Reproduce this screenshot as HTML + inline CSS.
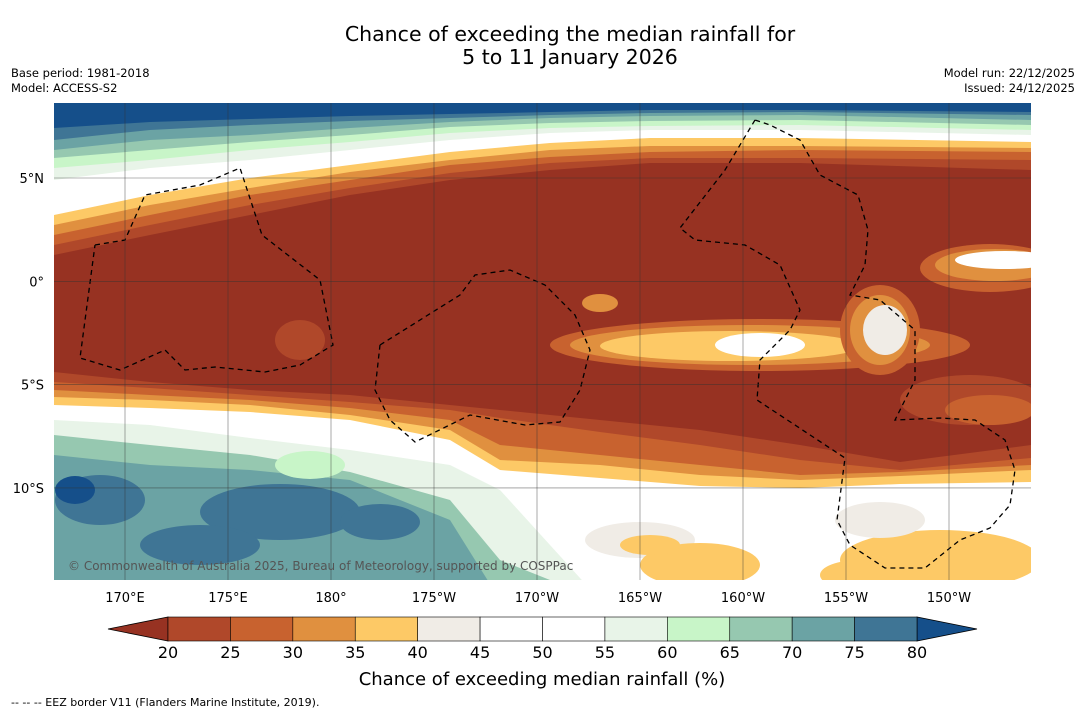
<!DOCTYPE html>
<html><head><meta charset="utf-8"><style>
body{margin:0;background:#fff;width:1085px;height:713px;overflow:hidden;font-family:"DejaVu Sans",sans-serif}
</style></head><body>
<svg id="s" width="1085" height="713" xmlns="http://www.w3.org/2000/svg" font-family="DejaVu Sans, sans-serif">
<text x="570" y="41" font-size="20.5" text-anchor="middle">Chance of exceeding the median rainfall for</text>
<text x="570" y="64" font-size="20.5" text-anchor="middle">5 to 11 January 2026</text>
<text x="11" y="77" font-size="11.5">Base period: 1981-2018</text>
<text x="11" y="92" font-size="11.5">Model: ACCESS-S2</text>
<text x="1075" y="77" font-size="11.5" text-anchor="end">Model run: 22/12/2025</text>
<text x="1075" y="92" font-size="11.5" text-anchor="end">Issued: 24/12/2025</text>
<defs><clipPath id="mc"><rect x="54" y="103" width="977" height="477"/></clipPath></defs>
<g id="map" clip-path="url(#mc)"></g>
<g id="ax"></g>
<text x="68" y="570" font-size="12" fill="#555">© Commonwealth of Australia 2025, Bureau of Meteorology, supported by COSPPac</text>
<g id="cb"></g>
<text x="542" y="685" font-size="18" text-anchor="middle">Chance of exceeding median rainfall (%)</text>
<text x="11" y="706" font-size="11">--  --  -- EEZ border V11 (Flanders Marine Institute, 2019).</text>
</svg>
<script>
const levels=[20,25,30,35,40,45,50,55,60,65,70,75,80];
const colors=["#B0482A","#C8622F","#E0903F","#FDC966","#F0ECE6","#FFFFFF","#FFFFFF","#E8F4E8","#C8F5C8","#96C8B0","#6BA3A4","#3F7595"];
const underColor="#973222", overColor="#154F8A";
const lonTicks=["170°E","175°E","180°","175°W","170°W","165°W","160°W","155°W","150°W"];
const latTicks=["5°N","0°","5°S","10°S"];
const NS="http://www.w3.org/2000/svg";
function mk(t,a,p){const e=document.createElementNS(NS,t);for(const k in a)e.setAttribute(k,a[k]);p.appendChild(e);return e;}
const mapG=document.getElementById('map');
const r0=mk('rect',{x:54,y:103,width:977,height:477,fill:underColor},mapG);


function band(pts,side,col,name){
  let d='M54,'+(side==='top'?103:580)+' ';
  pts.forEach(p=>d+='L'+p[0]+','+p[1]+' ');
  d+='L1031,'+(side==='top'?103:580)+'Z';
  const e=mk('path',{d:d,fill:col},mapG);
  
  
}
const XN=[54,150,250,350,450,550,650,800,1031];
const northBands=[
 ["#B0482A",[255,235,215,195,180,170,163,163,170]],
 ["#C8622F",[245,225,205,188,173,163,158,158,160]],
 ["#E0903F",[235,215,195,180,165,157,152,150,152]],
 ["#FDC966",[225,205,188,172,160,150,146,146,148]],
 ["#FFFFFF",[215,195,178,165,152,143,138,138,142]],
 ["#E8F4E8",[180,168,160,150,140,133,130,130,135]],
 ["#C8F5C8",[168,160,150,142,133,128,126,125,130]],
 ["#96C8B0",[158,150,142,135,127,123,121,120,125]],
 ["#6BA3A4",[150,140,135,128,122,118,116,115,120]],
 ["#3F7595",[140,130,125,121,118,115,113,112,115]],
 ["#154F8A",[128,122,119,116,114,112,110,110,112]]];
northBands.forEach((t,i)=>band(XN.map((x,j)=>[x,t[1][j]]),'top',t[0],'north-band-'+i));
function ell(cx,cy,rx,ry,col,name){const e=mk('ellipse',{cx:cx,cy:cy,rx:rx,ry:ry,fill:col},mapG);}
ell(990,268,70,24,"#C8622F","east-tongue-1");ell(995,265,60,16,"#E0903F","east-tongue-2");ell(1005,260,50,9,"#FFFFFF","east-tongue-3");
ell(760,345,210,26,"#C8622F","central-tongue-1");ell(750,345,180,20,"#E0903F","central-tongue-2");ell(730,346,130,15,"#FDC966","central-tongue-3");ell(760,345,45,12,"#FFFFFF","central-tongue-4");
ell(880,330,40,45,"#C8622F","east-blob-1");ell(880,330,30,35,"#E0903F","east-blob-2");ell(885,330,22,25,"#F0ECE6","east-blob-3");
ell(300,340,25,20,"#B0482A","west-blob");ell(600,303,18,9,"#E0903F","mid-blob");
ell(970,400,70,25,"#B0482A","se-blob-1");ell(990,410,45,15,"#C8622F","se-blob-2");
const XS=[54,150,250,350,450,500,600,700,800,900,1031];
const southBands=[
 ["#B0482A",[372,382,390,395,405,410,420,430,445,462,445]],
 ["#C8622F",[382,388,395,402,410,418,432,445,460,470,458]],
 ["#E0903F",[390,395,400,408,420,445,455,465,475,472,465]],
 ["#FDC966",[397,400,405,415,430,460,465,475,480,476,470]],
 ["#FFFFFF",[405,408,412,420,440,470,478,486,488,484,482]],
 ["#E8F4E8",[420,425,438,450,465,490,600,600,600,600,600]],
 ["#96C8B0",[435,445,455,472,500,560,600,600,600,600,600]],
 ["#6BA3A4",[455,465,470,480,520,600,600,600,600,600,600]]];
southBands.forEach((t,i)=>band(XS.map((x,j)=>[x,t[1][j]]),'bottom',t[0],'south-band-'+i));
ell(310,465,35,14,"#C8F5C8","green-patch");
ell(100,500,45,25,"#3F7595","blue-patch-1");ell(75,490,20,14,"#154F8A","blue-patch-2");
ell(280,512,80,28,"#3F7595","blue-patch-3");ell(380,522,40,18,"#3F7595","blue-patch-4");ell(200,545,60,20,"#3F7595","blue-patch-5");
ell(640,540,55,18,"#F0ECE6","se-grey-1");ell(700,565,60,22,"#FDC966","se-yellow-1");ell(650,545,30,10,"#FDC966","se-yellow-2");
ell(940,560,100,30,"#FDC966","se-yellow-3");ell(880,520,45,18,"#F0ECE6","se-grey-2");ell(860,575,40,15,"#FDC966","se-yellow-4");
const ax=document.getElementById('ax');
lonTicks.forEach((l,i)=>{const x=125+i*103;
 const g=mk('line',{x1:x,y1:103,x2:x,y2:580,stroke:"#333","stroke-width":0.6,opacity:0.7},ax);
 
 const t=mk('text',{x:x,y:602,"font-size":13,"text-anchor":"middle"},ax);t.textContent=l;
 });
latTicks.forEach((l,i)=>{const y=178+i*103.3;
 const g=mk('line',{x1:54,y1:y,x2:1031,y2:y,stroke:"#333","stroke-width":0.6,opacity:0.7},ax);
 
 const t=mk('text',{x:44,y:y+5,"font-size":13,"text-anchor":"end"},ax);t.textContent=l;
 });
const eez=[
 [[95,245],[125,240],[145,195],[200,185],[240,168],[262,235],[320,280],[333,345],[300,365],[265,372],[215,367],[185,370],[165,350],[120,370],[80,358],[95,245]],
 [[380,345],[460,295],[475,275],[510,270],[545,285],[575,315],[590,350],[580,390],[560,422],[525,425],[470,415],[415,442],[390,420],[375,390],[380,345]],
 [[755,120],[725,170],[680,228],[695,240],[745,245],[780,265],[800,310],[790,330],[760,360],[757,400],[845,458],[837,520],[850,545],[885,568],[925,568],[960,540],[990,528],[1010,505],[1015,470],[1005,440],[975,420],[940,418],[895,420],[915,380],[915,330],[880,300],[850,295],[865,265],[868,230],[858,195],[820,175],[800,140],[770,125],[755,120]]];
eez.forEach(p=>{const e=mk('polyline',{points:p.map(q=>q.join(',')).join(' '),fill:"none",stroke:"#000","stroke-width":1.3,"stroke-dasharray":"5,4"},mapG);
 });
const cb=document.getElementById('cb');
const cx0=168,cx1=917,cy=617,ch=24,w=(cx1-cx0)/(levels.length-1);
const lt=mk('polygon',{points:`108,${cy+ch/2} ${cx0},${cy} ${cx0},${cy+ch}`,fill:underColor,stroke:"#000","stroke-width":0.8},cb);

const rt=mk('polygon',{points:`977,${cy+ch/2} ${cx1},${cy} ${cx1},${cy+ch}`,fill:overColor,stroke:"#000","stroke-width":0.8},cb);

colors.forEach((c,i)=>{const r=mk('rect',{x:cx0+i*w,y:cy,width:w,height:ch,fill:c,stroke:"#000","stroke-width":0.6},cb);
 });
levels.forEach((v,i)=>{const t=mk('text',{x:cx0+i*w,y:658,"font-size":16,"text-anchor":"middle"},cb);t.textContent=v;
 });
</script>
</body></html>
